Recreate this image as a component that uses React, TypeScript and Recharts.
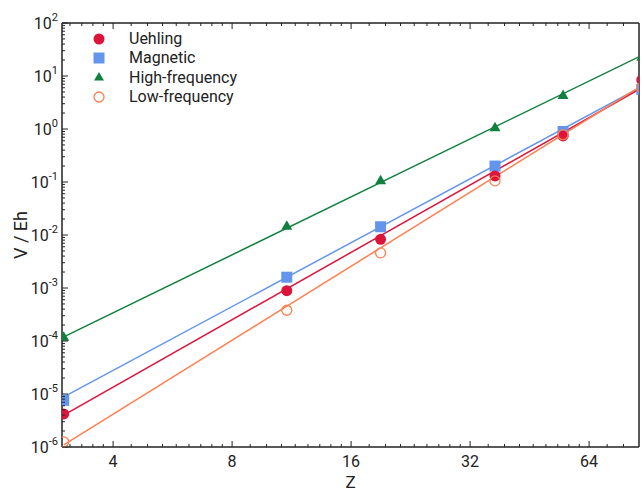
import { ScatterChart, Scatter, XAxis, YAxis } from 'recharts';

const Z = [3, 11, 19, 37, 55, 87];
const uehling = [4.2e-6, 8.9e-4, 8.3e-3, 0.13, 0.74, 8.4];
const magnetic = [7.6e-6, 1.6e-3, 1.43e-2, 0.2, 0.9, 5.6];
const highFreq = [1.2e-4, 1.5e-2, 0.108, 1.08, 4.4, 23];
const lowFreq = [1.25e-6, 3.8e-4, 4.6e-3, 0.105, 0.78, 6.0];

// fitted power-law lines, read at the two ends of the axis
const fitZ = [3, 87];
const fitUehling = [4.0e-6, 6.0];
const fitMagnetic = [8.8e-6, 6.3];
const fitHigh = [1.2e-4, 24.5];
const fitLow = [1.1e-6, 6.6];

const xMajor = [4, 8, 16, 32, 64];
const yExps = [-6, -5, -4, -3, -2, -1, 0, 1, 2];
const xDomain = [2.97, 85.6];

const RED = '#dc143c';
const BLUE = '#6495ed';
const GREEN = '#11803f';
const ORANGE = '#ff7f50';
const INK = '#222';

const xMinor = [2, 4, 8, 16, 32, 64]
  .flatMap((b) => [1, 2, 3, 4, 5, 6, 7, 8].map((k) => b * (1 + k / 9)))
  .filter((v) => v > 3 && v < 85);
const yMajor = yExps.map((e) => Math.pow(10, e));
const yMinor = yExps
  .slice(0, -1)
  .flatMap((e) => [2, 3, 4, 5, 6, 7, 8, 9].map((m) => m * Math.pow(10, e)));
const xTicks = [...xMajor, ...xMinor];
const yTicks = [...yMajor, ...yMinor];

const pts = (ys: number[], xs = Z) => xs.map((z, i) => ({ z, v: ys[i] }));
const isMajorY = (v: number) => Math.abs(Math.log10(v) - Math.round(Math.log10(v))) < 1e-6;

function BottomTick({ x, y, payload }: any) {
  const major = xMajor.includes(payload.value);
  return (
    <g>
      <line x1={x} x2={x} y1={y} y2={y - (major ? 6 : 3)} stroke={INK} strokeWidth={1} />
      {major && (
        <text x={x} y={y + 20} textAnchor="middle" fontSize={16} fill={INK}>
          {payload.value}
        </text>
      )}
    </g>
  );
}

function TopTick({ x, y, payload }: any) {
  const major = xMajor.includes(payload.value);
  return <line x1={x} x2={x} y1={y} y2={y + (major ? 6 : 3)} stroke={INK} strokeWidth={1} />;
}

function LeftTick({ x, y, payload }: any) {
  const major = isMajorY(payload.value);
  const exp = Math.round(Math.log10(payload.value));
  return (
    <g>
      <line x1={x} x2={x + (major ? 6 : 3)} y1={y} y2={y} stroke={INK} strokeWidth={1} />
      {major && (
        <text x={x - 4} y={y + 6} textAnchor="end" fontSize={16} fill={INK}>
          <tspan>10</tspan>
          <tspan dy={-8} fontSize={11}>
            {exp}
          </tspan>
        </text>
      )}
    </g>
  );
}

function RightTick({ x, y, payload }: any) {
  const major = isMajorY(payload.value);
  return <line x1={x} x2={x - (major ? 6 : 3)} y1={y} y2={y} stroke={INK} strokeWidth={1} />;
}

function YTitle({ viewBox }: any) {
  const cx = 20;
  const cy = viewBox.y + viewBox.height / 2;
  return (
    <text
      x={cx}
      y={cy}
      transform={`rotate(-90, ${cx}, ${cy})`}
      textAnchor="middle"
      dominantBaseline="central"
      fontSize={18}
      fill={INK}
    >
      V / Eh
    </text>
  );
}

function XTitle({ viewBox }: any) {
  return (
    <text x={viewBox.x + viewBox.width / 2} y={viewBox.y + 41} textAnchor="middle" fontSize={17} fill={INK}>
      Z
    </text>
  );
}

const dotCircle = ({ cx, cy }: any) => <circle cx={cx} cy={cy} r={5.5} fill={RED} />;
const dotSquare = ({ cx, cy }: any) => <rect x={cx - 5.5} y={cy - 5.5} width={11} height={11} fill={BLUE} />;
const dotTriangle = ({ cx, cy }: any) => (
  <polygon points={`${cx},${cy - 5.5} ${cx + 5.5},${cy + 4} ${cx - 5.5},${cy + 4}`} fill={GREEN} />
);
const dotOpen = ({ cx, cy }: any) => (
  <circle cx={cx} cy={cy} r={5} fill="none" stroke={ORANGE} strokeWidth={1.3} />
);
const noDot = () => <g />;

const legendItems = [
  { name: 'Uehling', marker: <circle cx={8} cy={8} r={5.5} fill={RED} /> },
  { name: 'Magnetic', marker: <rect x={2.5} y={2.5} width={11} height={11} fill={BLUE} /> },
  { name: 'High-frequency', marker: <polygon points="8,3 13,11.5 3,11.5" fill={GREEN} /> },
  { name: 'Low-frequency', marker: <circle cx={8} cy={8} r={5} fill="none" stroke={ORANGE} strokeWidth={1.3} /> },
];

export default function App() {
  return (
    <div
      style={{
        position: 'fixed',
        left: 0,
        top: 0,
        width: 642,
        height: 492,
        background: '#fff',
        fontFamily: 'Roboto, sans-serif',
      }}
    >
      <ScatterChart width={642} height={492} margin={{ top: 22, right: 2, bottom: 0, left: 0 }}>
        <XAxis
          xAxisId="b"
          dataKey="z"
          type="number"
          scale="log"
          domain={xDomain}
          allowDataOverflow
          ticks={xTicks}
          interval={0}
          tickSize={0}
          tickMargin={0}
          tickLine={false}
          tick={<BottomTick />}
          axisLine={{ stroke: INK, strokeWidth: 1.5 }}
          height={45}
          label={<XTitle />}
        />
        <XAxis
          xAxisId="t"
          orientation="top"
          dataKey="z"
          type="number"
          scale="log"
          domain={xDomain}
          allowDataOverflow
          ticks={xTicks}
          interval={0}
          tickSize={0}
          tickMargin={0}
          tickLine={false}
          tick={<TopTick />}
          axisLine={{ stroke: INK, strokeWidth: 1.5 }}
          height={1}
        />
        <YAxis
          yAxisId="l"
          dataKey="v"
          type="number"
          scale="log"
          domain={[1e-6, 100]}
          ticks={yTicks}
          interval={0}
          tickSize={0}
          tickMargin={0}
          tickLine={false}
          tick={<LeftTick />}
          axisLine={{ stroke: INK, strokeWidth: 1.5 }}
          width={62}
          label={<YTitle />}
        />
        <YAxis
          yAxisId="r"
          orientation="right"
          dataKey="v"
          type="number"
          scale="log"
          domain={[1e-6, 100]}
          ticks={yTicks}
          interval={0}
          tickSize={0}
          tickMargin={0}
          tickLine={false}
          tick={<RightTick />}
          axisLine={{ stroke: INK, strokeWidth: 1.5 }}
          width={1}
        />

        <Scatter xAxisId="b" yAxisId="l" data={pts(fitHigh, fitZ)} line={{ stroke: GREEN, strokeWidth: 1.5 }} shape={noDot} isAnimationActive={false} />
        <Scatter xAxisId="b" yAxisId="l" data={pts(fitMagnetic, fitZ)} line={{ stroke: BLUE, strokeWidth: 1.5 }} shape={noDot} isAnimationActive={false} />
        <Scatter xAxisId="b" yAxisId="l" data={pts(fitUehling, fitZ)} line={{ stroke: RED, strokeWidth: 1.5 }} shape={noDot} isAnimationActive={false} />
        <Scatter xAxisId="b" yAxisId="l" data={pts(fitLow, fitZ)} line={{ stroke: ORANGE, strokeWidth: 1.5 }} shape={noDot} isAnimationActive={false} />

        <Scatter xAxisId="b" yAxisId="l" name="High-frequency" data={pts(highFreq)} shape={dotTriangle} isAnimationActive={false} />
        <Scatter xAxisId="b" yAxisId="l" name="Magnetic" data={pts(magnetic)} shape={dotSquare} isAnimationActive={false} />
        <Scatter xAxisId="b" yAxisId="l" name="Uehling" data={pts(uehling)} shape={dotCircle} isAnimationActive={false} />
        <Scatter xAxisId="b" yAxisId="l" name="Low-frequency" data={pts(lowFreq)} shape={dotOpen} isAnimationActive={false} />
      </ScatterChart>

      <div style={{ position: 'absolute', left: 91, top: 29, fontSize: 16, color: INK }}>
        {legendItems.map((it) => (
          <div key={it.name} style={{ display: 'flex', alignItems: 'center', height: 19.3 }}>
            <svg width={16} height={16} style={{ marginRight: 22 }}>
              {it.marker}
            </svg>
            <span>{it.name}</span>
          </div>
        ))}
      </div>
    </div>
  );
}
